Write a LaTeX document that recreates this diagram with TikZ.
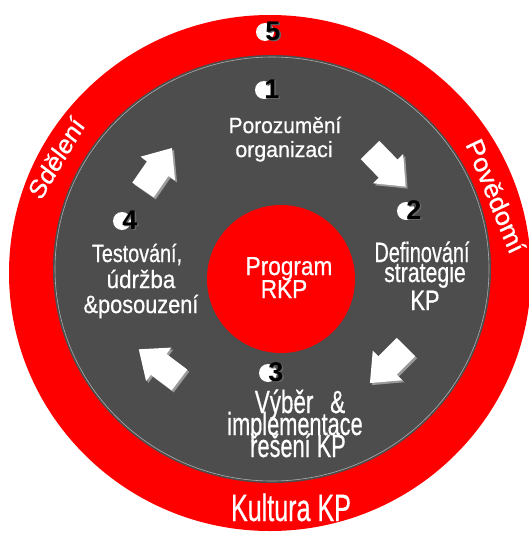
\documentclass[tikz,border=0pt]{standalone}
\usepackage{fontspec}
\setmainfont{Liberation Sans}
\newfontfamily\heavyfont{Liberation Sans}[FakeBold=0.7]
\definecolor{discgrey}{HTML}{4D4D4D}
\definecolor{shadowc}{HTML}{9A9A9A}
\tikzset{
  lbl/.style={text=white, inner sep=0pt, anchor=base},
  numdisc/.style={circle, fill=white, minimum size=18pt, inner sep=0pt},
  numtxt/.style={text=black, inner sep=0pt, font=\fontsize{27}{27}\selectfont\bfseries},
  numshadow/.style={text=black!60, inner sep=0pt, font=\fontsize{27}{27}\selectfont\bfseries},
}
\begin{document}
\begin{tikzpicture}[x=1pt,y=-1pt]
\useasboundingbox (0,0) rectangle (528,533);
\fill[white] (0,0) rectangle (528,533);
% rings
\fill[red] (270,273) ellipse [x radius=261pt, y radius=258pt];
\fill[discgrey] (272,269) ellipse [x radius=219pt, y radius=214pt];
\draw[gray!65, line width=0.6pt] (272,269) ellipse [x radius=217pt, y radius=212pt];
\fill[red] (281,279) circle [radius=74pt];
% block arrows
\foreach \x/\y/\a in {143/190/55.4, 370/150/-45.8, 406/347/-135, 179.5/380/143} {
  \begin{scope}[shift={(\x+2,\y+2)}, rotate=\a]
    \fill[shadowc] (0,13)--(26,13)--(26,21)--(51,0)--(26,-21)--(26,-13)--(0,-13)--cycle;
  \end{scope}
  \begin{scope}[shift={(\x,\y)}, rotate=\a]
    \fill[white] (0,13)--(26,13)--(26,21)--(51,0)--(26,-21)--(26,-13)--(0,-13)--cycle;
  \end{scope}
}
% numbers
\foreach \n/\cx/\cy in {5/273/31, 1/272/89, 2/414/210, 3/276/372, 4/130/220} {
  \node[numdisc] (d\n) at (\cx-8,\cy+1) {};
  \node[numshadow] (s\n) at (\cx+1.5,\cy+1.5) {\n};
  \node[numtxt] (n\n) at (\cx,\cy) {\n};
}
% step 1
\node[lbl, font=\heavyfont\fontsize{22}{24}\selectfont, xscale=.95] (t1a) at (285,133) {Porozumění};
\node[lbl, font=\heavyfont\fontsize{22}{24}\selectfont, xscale=.97] (t1b) at (284,157) {organizaci};
% step 2
\node[lbl, font=\heavyfont\fontsize{28}{28}\selectfont, xscale=.71] (t2a) at (422,262) {Definování};
\node[lbl, font=\heavyfont\fontsize{28}{28}\selectfont, xscale=.76] (t2b) at (425,282) {strategie};
\node[lbl, font=\heavyfont\fontsize{28}{28}\selectfont, xscale=.78] (t2c) at (425,310) {KP};
% step 3
\node[lbl, font=\heavyfont\fontsize{32}{32}\selectfont, xscale=.7] (t3a) at (300,413) {Výběr\hspace{24pt}\&};
\node[lbl, font=\heavyfont\fontsize{32}{32}\selectfont, xscale=.68] (t3b) at (295,435) {implementace};
\node[lbl, font=\heavyfont\fontsize{32}{32}\selectfont, xscale=.68] (t3c) at (298,457) {řešení KP};
% step 4
\node[lbl, font=\heavyfont\fontsize{25}{25}\selectfont, xscale=.79] (t4a) at (137,262) {Testování,};
\node[lbl, font=\heavyfont\fontsize{25}{25}\selectfont, xscale=.9] (t4b) at (141,288) {údržba};
\node[lbl, font=\heavyfont\fontsize{25}{25}\selectfont, xscale=.87] (t4c) at (141,313) {\&posouzení};
% centre
\node[lbl, font=\heavyfont\fontsize{26}{26}\selectfont, xscale=.87] (c1) at (289,275) {Program};
\node[lbl, font=\heavyfont\fontsize{26}{26}\selectfont, xscale=.87] (c2) at (284,298) {RKP};
% ring labels
\node[lbl, font=\heavyfont\fontsize{38}{38}\selectfont, xscale=.66] (k) at (291,521) {Kultura KP};
\node[text=white, inner sep=0pt, font=\heavyfont\fontsize{27}{27}\selectfont, xscale=.88, rotate=56] (sd) at (56,158) {Sdělení};
\node[text=white, inner sep=0pt, font=\heavyfont\fontsize{27}{27}\selectfont, xscale=.92, rotate=-66.3] (pv) at (496,196) {Povědomí};
\end{tikzpicture}
\end{document}
